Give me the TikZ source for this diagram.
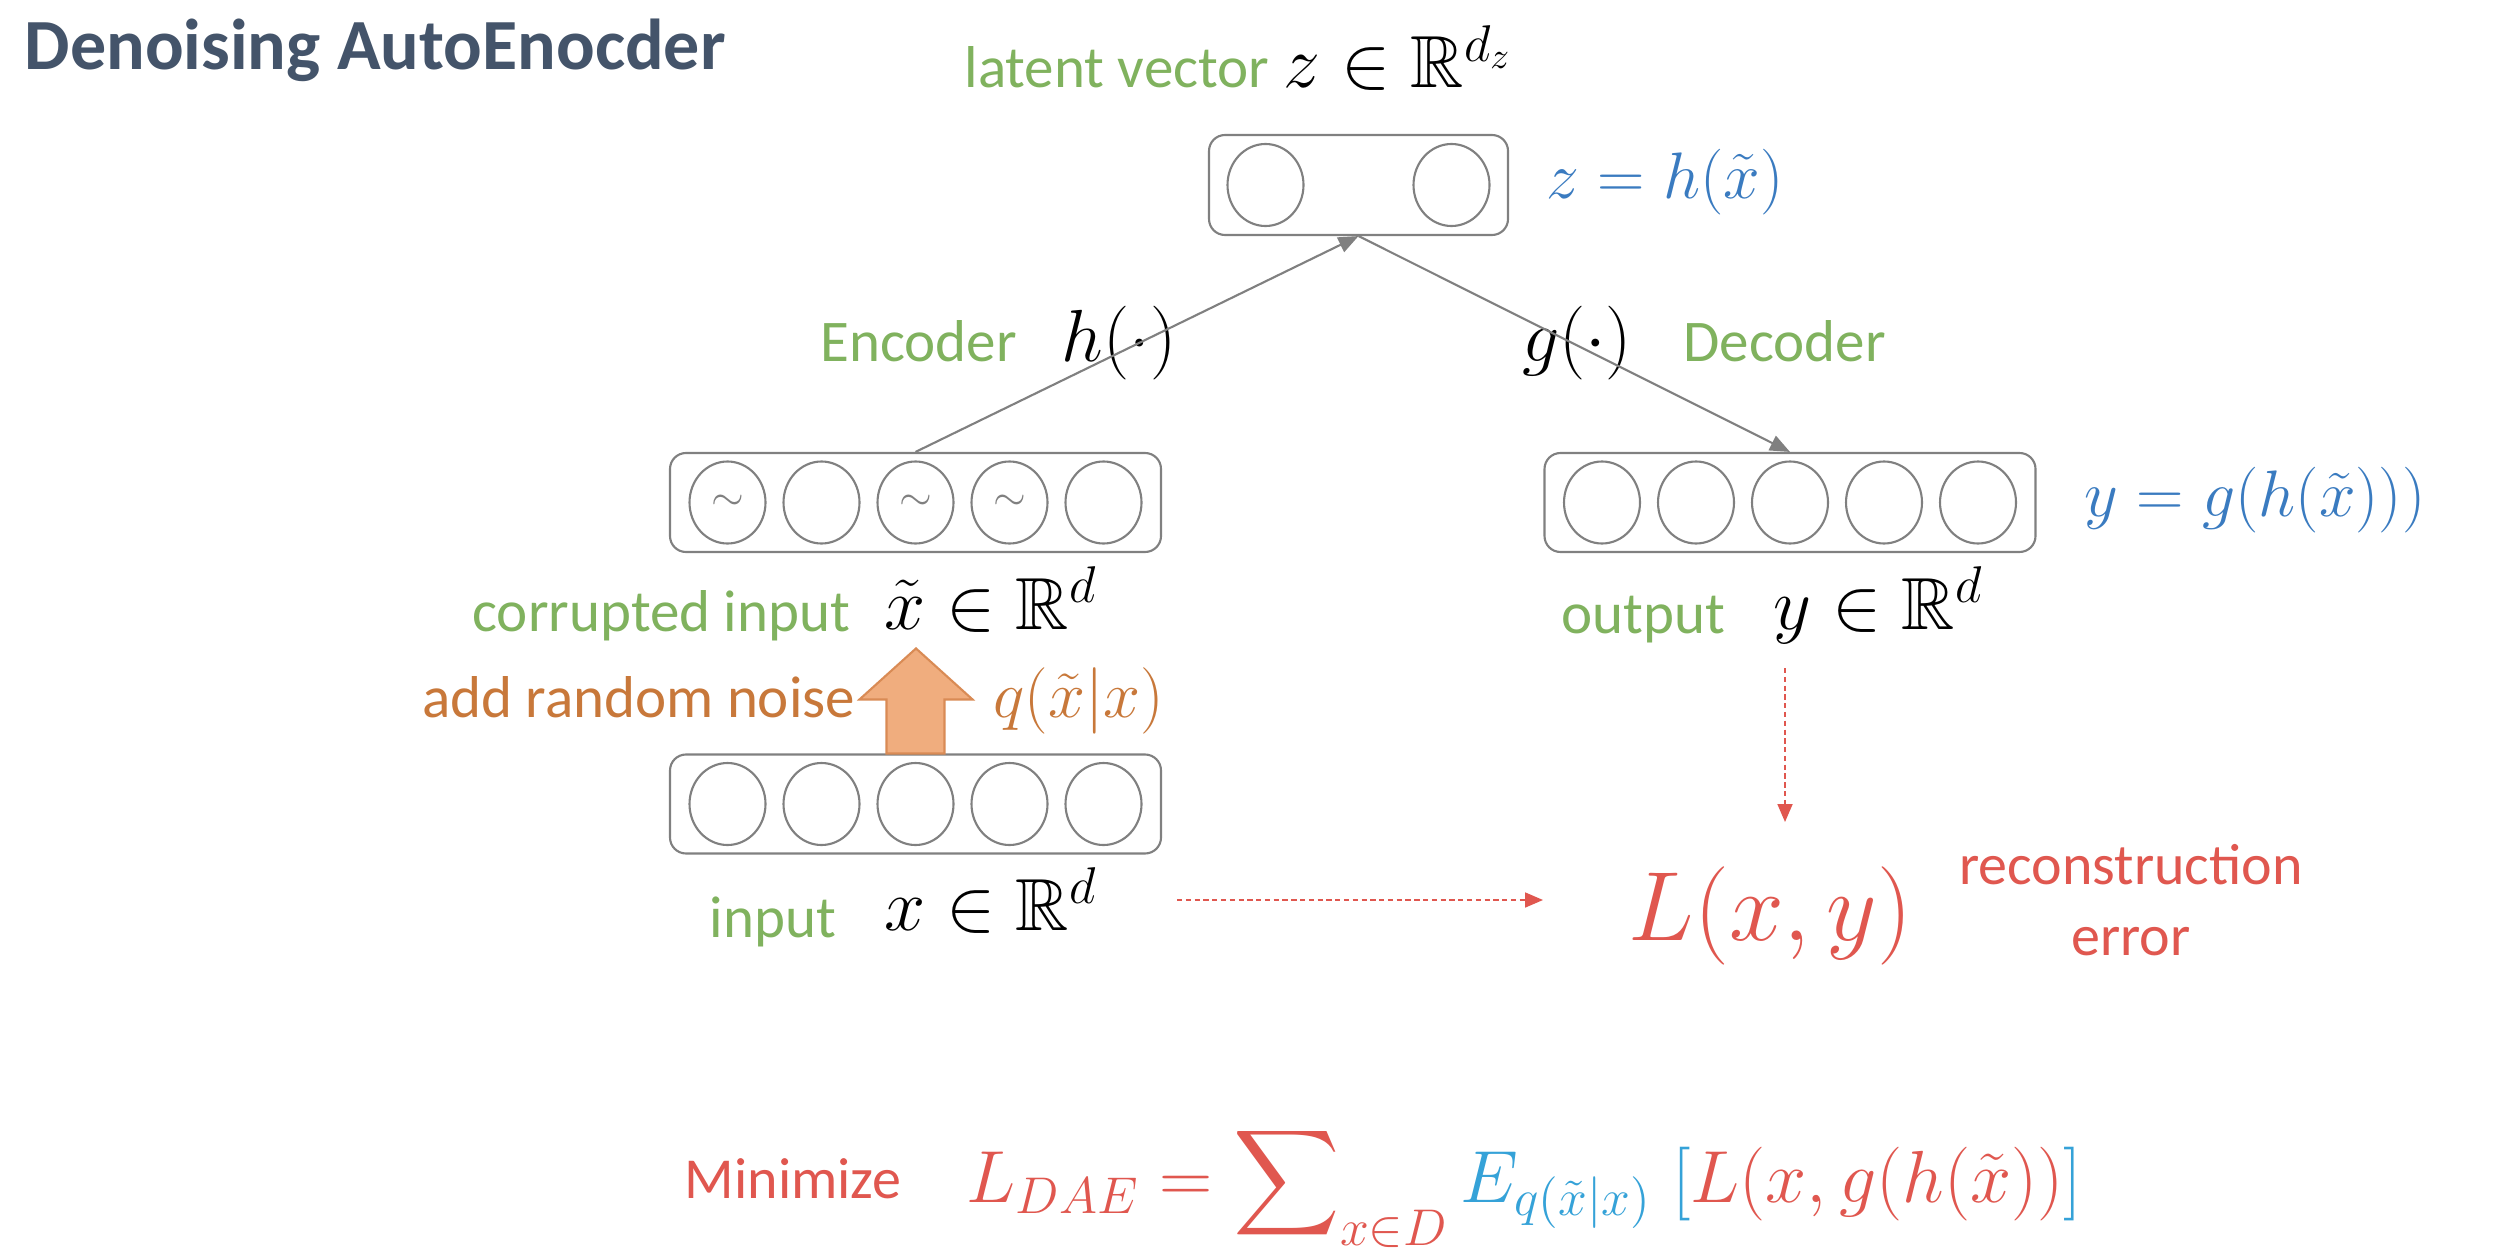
\RequirePackage{fix-cm}
\documentclass[tikz,border=0pt]{standalone}
\usepackage{amsmath,amssymb}
\usepackage{fontspec}
\setmainfont{Carlito}
\usepackage{tikz}
\usetikzlibrary{arrows.meta,positioning,shapes.geometric}
\definecolor{daegreen}{HTML}{80B25E}
\definecolor{daeblue}{HTML}{3A7BC0}
\definecolor{daecyan}{HTML}{35A2D8}
\definecolor{daered}{HTML}{E0574F}
\definecolor{daeorange}{HTML}{C8783A}
\definecolor{noisefill}{HTML}{F0AD7E}
\definecolor{noiseedge}{HTML}{D98B55}
\definecolor{titlegray}{HTML}{44546A}
\definecolor{linegray}{HTML}{808080}

\begin{document}
\begin{tikzpicture}[
  layer/.style={draw=linegray,line width=0.6pt,rounded corners=1.6mm,
                minimum width=4.91cm,minimum height=0.99cm},
  unit/.style={draw=linegray,line width=0.6pt,ellipse,inner sep=0pt,
               minimum width=0.76cm,minimum height=0.82cm},
  lbl/.style={text=daegreen,font=\fontsize{16.8}{20}\selectfont,inner sep=0pt},
  mathlbl/.style={font=\fontsize{21}{25}\selectfont,inner sep=0pt},
  bluelbl/.style={text=daeblue,font=\fontsize{18.7}{22}\selectfont,inner sep=0pt},
  redlbl/.style={text=daered,font=\fontsize{16.5}{20}\selectfont,inner sep=0pt},
  link/.style={draw=linegray,line width=0.6pt,-{Triangle[length=2mm,width=1.6mm]}},
  loss/.style={draw=daered,line width=0.5pt,dash pattern=on 1.5pt off 1pt,
               -{Triangle[length=1.8mm,width=1.5mm]}},
  noise/.style={draw=noiseedge,fill=noisefill,line width=0.6pt}
]
  \fill[white] (0,-12.56) rectangle (24.94,0);
  \useasboundingbox (0,-12.56) rectangle (24.94,0);

  \node[anchor=base west,text=titlegray,inner sep=0pt,
        font=\fontsize{20.5}{24}\selectfont\bfseries] (title) at (0.24,-0.70) {Denoising AutoEnocder};

  % layers
  \node[layer,minimum width=2.99cm,minimum height=1.0cm] (latent) at (13.585,-1.85) {};
  \node[layer] (corrupt) at (9.155,-5.025) {};
  \node[layer] (input) at (9.155,-8.04) {};
  \node[layer] (output) at (17.90,-5.025) {};
  \node[unit] (latent1) at ([xshift=-9.3mm]latent.center) {};
  \node[unit] (latent2) at ([xshift=9.3mm]latent.center) {};
  \foreach \i in {1,...,5} {
    \node[unit] (corrupt\i) at ([xshift={(\i-3)*9.4mm}]corrupt.center) {};
    \node[unit] (input\i) at ([xshift={(\i-3)*9.4mm}]input.center) {};
    \node[unit] (output\i) at ([xshift={(\i-3)*9.4mm}]output.center) {};
  }
  \foreach \i in {1,3,4}
    \node[text=linegray,font=\fontsize{12}{14}\selectfont] at (corrupt\i) {$\sim$};

  % labels
  \node[lbl,anchor=base east] (latentlbl) at (12.70,-0.88) {latent vector};
  \node[mathlbl,anchor=base west] (latentvec) at (12.83,-0.88) {$z\in\mathbb{R}^{d_z}$};
  \node[bluelbl,anchor=base west] (zdef) at (15.46,-1.98) {$z=h(\tilde{x})$};
  \node[lbl,anchor=base] (enclbl) at (9.185,-3.62) {Encoder};
  \node[mathlbl,anchor=base] (encfn) at (11.19,-3.62) {$h(\cdot)$};
  \node[mathlbl,anchor=base] (decfn) at (15.77,-3.62) {$g(\cdot)$};
  \node[lbl,anchor=base] (declbl) at (17.845,-3.62) {Decoder};
  \node[lbl,anchor=base east] (corruptlbl) at (8.51,-6.31) {corrupted input};
  \node[mathlbl,anchor=base west] (corruptvec) at (8.84,-6.29) {$\tilde{x}\in\mathbb{R}^{d}$};
  \node[anchor=base east,text=daeorange,font=\fontsize{16.8}{20}\selectfont,inner sep=0pt]
    (noiselbl) at (8.56,-7.17) {add random noise};
  \node[anchor=base west,text=daeorange,font=\fontsize{18.9}{22}\selectfont,inner sep=0pt]
    (noisefn) at (9.93,-7.17) {$q(\tilde{x}|x)$};
  \node[lbl,anchor=base east] (inputlbl) at (8.37,-9.37) {input};
  \node[mathlbl,anchor=base west] (inputvec) at (8.84,-9.30) {$x\in\mathbb{R}^{d}$};
  \node[lbl,anchor=base east] (outputlbl) at (17.26,-6.33) {output};
  \node[mathlbl,anchor=base west] (outputvec) at (17.73,-6.29) {$y\in\mathbb{R}^{d}$};
  \node[bluelbl,anchor=base west] (ydef) at (20.84,-5.16) {$y=g(h(\tilde{x})))$};
  \node[anchor=base west,text=daered,font=\fontsize{28}{32}\selectfont,inner sep=0pt]
    (lossfn) at (16.28,-9.40) {$L(x,y)$};
  \node[redlbl,align=center] (losslbl) at (21.31,-9.0) {reconstruction\\error};
  \node[redlbl,anchor=base west] (minlbl) at (6.84,-11.98) {Minimize};
  \node[anchor=base west,text=daered,font=\fontsize{21}{25}\selectfont,inner sep=0pt]
    (objective) at (9.66,-12.02)
    {$\displaystyle L_{DAE}=\sum\nolimits_{x\in D}\textcolor{daecyan}{E_{q(\tilde{x}|x)}}\;
      \textcolor{daecyan}{[}L(x,g(h(\tilde{x}))\textcolor{daecyan}{]}$};

  % connectors
  \draw[link] (corrupt.north) -- (latent.south);
  \draw[link] (latent.south) -- (output.north);
  \draw[noise] ([xshift=-2.9mm]input.north) -- ++(0,0.54) -- ++(-0.27,0) -- ++(0.565,0.51)
    -- ++(0.565,-0.51) -- ++(-0.28,0) -- ++(0,-0.54) -- cycle;
  \coordinate (errfrom) at (17.85,-6.68);
  \coordinate (errto) at (17.85,-8.22);
  \coordinate (infrom) at (11.77,-9.00);
  \draw[loss] (errfrom) -- (errto);
  \draw[loss,shorten >=8.5mm] (infrom) -- (infrom -| lossfn.west);
\end{tikzpicture}
\end{document}
